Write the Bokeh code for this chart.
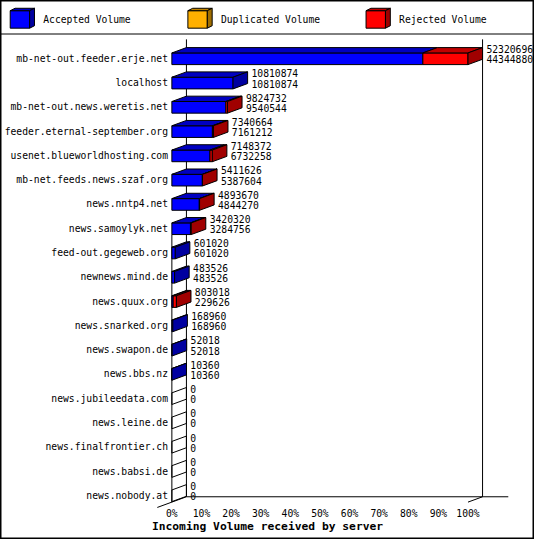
from bokeh.plotting import figure
from bokeh.models import Range1d, ColumnDataSource
from bokeh.embed import file_html
from bokeh.resources import INLINE
from bokeh.core.properties import value

# ---------------- data ----------------
servers = [
    "mb-net-out.feeder.erje.net", "localhost", "mb-net-out.news.weretis.net",
    "feeder.eternal-september.org", "usenet.blueworldhosting.com",
    "mb-net.feeds.news.szaf.org", "news.nntp4.net", "news.samoylyk.net",
    "feed-out.gegeweb.org", "newnews.mind.de", "news.quux.org",
    "news.snarked.org", "news.swapon.de", "news.bbs.nz",
    "news.jubileedata.com", "news.leine.de", "news.finalfrontier.ch",
    "news.babsi.de", "news.nobody.at",
]
total_volume = [52320696, 10810874, 9824732, 7340664, 7148372, 5411626,
                4893670, 3420320, 601020, 483526, 803018, 168960, 52018,
                10360, 0, 0, 0, 0, 0]
accepted_volume = [44344880, 10810874, 9540544, 7161212, 6732258, 5387604,
                   4844270, 3284756, 601020, 483526, 229626, 168960, 52018,
                   10360, 0, 0, 0, 0, 0]
duplicated_volume = [0, 0, 0, 0, 0, 0, 0, 0, 0, 0, 0, 0, 0, 0, 0, 0, 0, 0, 0]
rejected_volume = [t - a - d for t, a, d in zip(total_volume, accepted_volume, duplicated_volume)]

tick_values = [0, 10, 20, 30, 40, 50, 60, 70, 80, 90, 100]
tick_labels = ["0%", "10%", "20%", "30%", "40%", "50%", "60%", "70%", "80%", "90%", "100%"]
legend_names = ["Accepted Volume", "Duplicated Volume", "Rejected Volume"]
x_title = "Incoming Volume received by server"

# ---------------- styles / geometry ----------------
front_colors = ["#0000FF", "#FFB000", "#FF0000"]
top_colors = ["#0000C0", "#C08400", "#C00000"]
side_colors = ["#0000A0", "#A06E00", "#A00000"]
FONT = value("DejaVu Sans Mono")
FS = value("9.7px")
FS_TITLE = value("11.3px")

REF_W, REF_H = 550, 555
W, H = 534, 539
X0 = 176.5        # px of 0 %
PXPCT = 3.05      # px per percent
Y0 = 60.0         # px of first row centre
ROWH = 25.0       # px per row


def px2x(px):
    return (px - X0) / PXPCT


def py2r(py):
    return (py - Y0) / ROWH


HH = 6.0 / ROWH           # half height of a bar's front face
DX = 15.0 / PXPCT         # depth offset (x)
DY = 5.5 / ROWH           # depth offset (y, upwards)
n = len(servers)
rows = list(range(n))
floor_front = (n - 1) + HH + 0.5 / ROWH
floor_back = floor_front - DY

p = figure(width=W, height=H, output_backend="svg", toolbar_location=None,
           x_range=Range1d(px2x(0), px2x(REF_W)),
           y_range=Range1d(py2r(REF_H), py2r(0)),
           x_axis_location=None, y_axis_location=None, min_border=0,
           background_fill_color="white", border_fill_color="white")
p.grid.visible = False
p.outline_line_color = "black"
p.outline_line_width = 2

# legend separator
p.line(x=[px2x(0), px2x(REF_W)], y=[py2r(34.5), py2r(34.5)], line_color="black", line_width=1)

# back walls and floor
wall_top = py2r(40)
p.segment(x0=[DX, 100 + DX], y0=[wall_top, wall_top], x1=[DX, 100 + DX], y1=[floor_back, floor_back],
          line_color="black", line_width=1)
p.segment(x0=[DX], y0=[floor_back], x1=[px2x(523)], y1=[floor_back], line_color="black")
p.segment(x0=[-DX, 100], y0=[floor_front + DY, floor_front], x1=[DX, 100 + DX],
          y1=[floor_back, floor_back], line_color="black")
p.segment(x0=[0], y0=[7 + HH], x1=[0], y1=[floor_front], line_color="black")

# ---------------- 3D bars ----------------
vmax = max(total_volume)
xs, ys, fills = [], [], []
for i in rows:
    segs = [accepted_volume[i], duplicated_volume[i], rejected_volume[i]]
    top = i - HH
    bot = i + HH
    cum = 0.0
    last = None
    for k, v in enumerate(segs):
        if v <= 0:
            continue
        w = v / vmax * 100.0
        x1, x2 = cum, cum + w
        xs.append([x1, x2, x2, x1]); ys.append([top, top, bot, bot]); fills.append(front_colors[k])
        xs.append([x1, x2, x2 + DX, x1 + DX]); ys.append([top, top, top - DY, top - DY]); fills.append(top_colors[k])
        cum = x2
        last = k
    xs.append([cum, cum + DX, cum + DX, cum])
    ys.append([top, top - DY, bot - DY, bot])
    fills.append(side_colors[last] if last is not None else None)

src = ColumnDataSource(dict(xs=xs, ys=ys, fill=fills))
p.patches("xs", "ys", source=src, fill_color="fill", line_color="black", line_width=1,
          line_join="miter")

# value labels
lab_x = [t / vmax * 100.0 + DX + 4.0 / PXPCT for t in total_volume]
p.text(x=lab_x, y=[r - 0.4 for r in rows], text=[str(t) for t in total_volume],
       text_font=FONT, text_font_size=FS, text_baseline="middle", text_align="left", text_color="black")
p.text(x=lab_x, y=[r + 0.02 for r in rows], text=[str(a) for a in accepted_volume],
       text_font=FONT, text_font_size=FS, text_baseline="middle", text_align="left", text_color="black")

# category labels
p.text(x=[px2x(172.5)] * n, y=[r - 0.02 for r in rows], text=servers,
       text_font=FONT, text_font_size=FS, text_baseline="middle", text_align="right", text_color="black")

# x tick labels and title
p.text(x=tick_values, y=[py2r(528)] * len(tick_values), text=tick_labels,
       text_font=FONT, text_font_size=FS, text_baseline="middle", text_align="center", text_color="black")
p.text(x=[px2x(REF_W / 2)], y=[py2r(542)], text=[x_title], text_font=FONT, text_font_size=FS_TITLE,
       text_font_style="bold", text_baseline="middle", text_align="center", text_color="black")

# ---------------- legend (3D cubes) ----------------
lx, ly, lf = [], [], []
leg_px = [10, 193, 376.5]
for k, lp in enumerate(leg_px):
    x1, x2 = px2x(lp), px2x(lp + 20)
    t, b = py2r(10.5), py2r(28.5)
    ddx = 5.0 / PXPCT
    ddy = 2.5 / ROWH
    lx.append([x1, x2, x2, x1]); ly.append([t, t, b, b]); lf.append(front_colors[k])
    lx.append([x1, x2, x2 + ddx, x1 + ddx]); ly.append([t, t, t - ddy, t - ddy]); lf.append(top_colors[k])
    lx.append([x2, x2 + ddx, x2 + ddx, x2]); ly.append([t, t - ddy, b - ddy, b]); lf.append(side_colors[k])
p.patches(xs=lx, ys=ly, fill_color=lf, line_color="black", line_width=1, line_join="miter")
p.text(x=[px2x(lp + 34) for lp in leg_px], y=[py2r(20)] * 3, text=legend_names,
       text_font=FONT, text_font_size=FS, text_baseline="middle", text_align="left", text_color="black")

open("out.html", "w").write(file_html(p, INLINE))
